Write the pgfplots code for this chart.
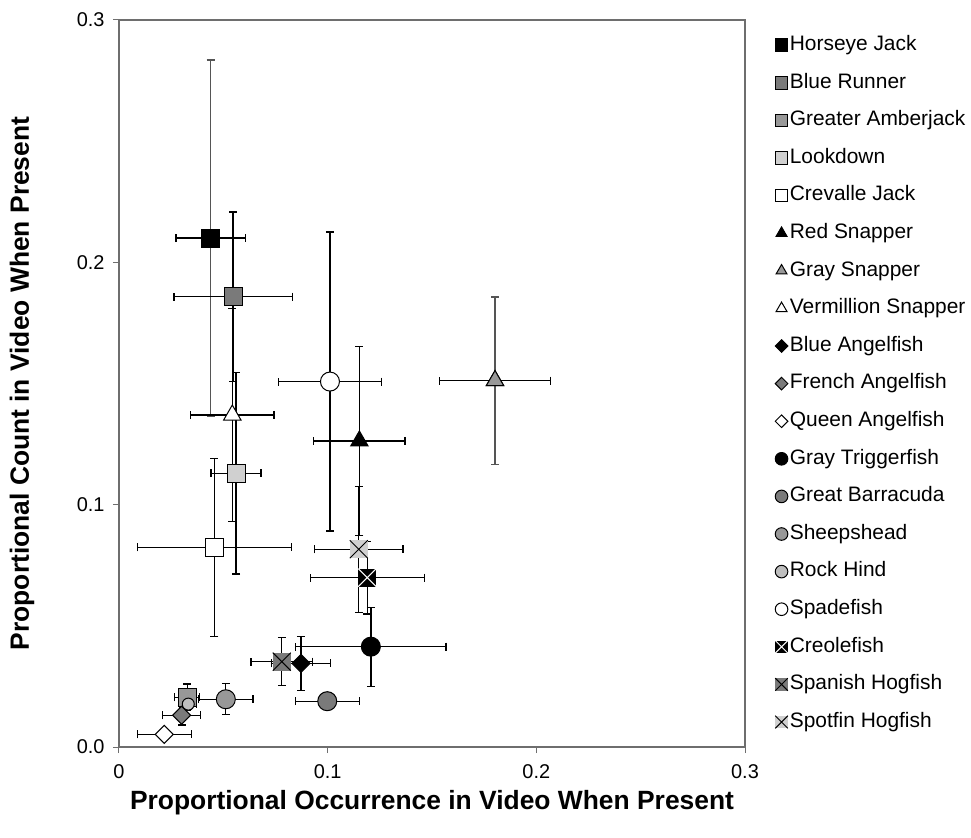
\documentclass[border=0pt]{standalone}
\usepackage{pgfplots}
\pgfplotsset{compat=1.18}
\usepackage{fontspec}
\setmainfont{Liberation Sans}
\definecolor{dg}{HTML}{7A7A7A}
\definecolor{mg}{HTML}{989898}
\definecolor{lg}{HTML}{D0D0D0}
\definecolor{rh}{HTML}{BEBEBE}
\definecolor{axc}{HTML}{6E6E6E}
\definecolor{ebg}{HTML}{555555}
\pgfdeclareplotmark{xsquare}{%
  \pgfpathrectangle{\pgfqpoint{-\pgfplotmarksize}{-\pgfplotmarksize}}{\pgfqpoint{2\pgfplotmarksize}{2\pgfplotmarksize}}%
  \pgfusepathqfill
  \pgfpathmoveto{\pgfqpoint{-\pgfplotmarksize}{-\pgfplotmarksize}}%
  \pgfpathlineto{\pgfqpoint{\pgfplotmarksize}{\pgfplotmarksize}}%
  \pgfpathmoveto{\pgfqpoint{-\pgfplotmarksize}{\pgfplotmarksize}}%
  \pgfpathlineto{\pgfqpoint{\pgfplotmarksize}{-\pgfplotmarksize}}%
  \pgfusepathqstroke
}
\pgfdeclareplotmark{rdiamond*}{%
  \pgfpathmoveto{\pgfqpoint{0pt}{\pgfplotmarksize}}%
  \pgfpathlineto{\pgfqpoint{\pgfplotmarksize}{0pt}}%
  \pgfpathlineto{\pgfqpoint{0pt}{-\pgfplotmarksize}}%
  \pgfpathlineto{\pgfqpoint{-\pgfplotmarksize}{0pt}}%
  \pgfpathclose
  \pgfusepathqfillstroke
}
\pgfplotsset{
  eb/.style={only marks, line width=1bp,
    error bars/x dir=both, error bars/x explicit,
    error bars/y dir=both, error bars/y explicit,
    error bars/error bar style={black, line width=1.3bp},
    error bars/error mark=|,
    error bars/error mark options={black, line width=1.3bp, mark size=4bp}},
  ebx/.style={only marks, line width=1bp,
    error bars/x dir=both, error bars/x explicit,
    error bars/error bar style={black, line width=1.3bp},
    error bars/error mark=|,
    error bars/error mark options={black, line width=1.3bp, mark size=4bp}},
  ebyg/.style={only marks, line width=1bp, forget plot,
    error bars/y dir=both, error bars/y explicit,
    error bars/error bar style={ebg, line width=1.3bp},
    error bars/error mark=|,
    error bars/error mark options={ebg, line width=1.3bp, mark size=4bp}},
}
\begin{document}
\begin{tikzpicture}
\useasboundingbox (-119bp,-91bp) rectangle (852bp,747bp);
\begin{axis}[
  at={(0,0)}, anchor=south west,
  width=626bp, height=727bp, scale only axis,
  xmin=0, xmax=0.3, ymin=0, ymax=0.3,
  xtick={0,0.1,0.2,0.3}, xticklabels={0,0.1,0.2,0.3},
  ytick={0,0.1,0.2,0.3}, yticklabels={0.0,0.1,0.2,0.3},
  tick align=outside, tick pos=left, major tick length=6bp,
  tick style={axc, line width=1bp},
  axis line style={axc, line width=1.2bp},
  /pgf/number format/assume math mode=true,
  ticklabel style={font=\fontsize{20}{22}\selectfont},
  yticklabel style={xshift=-5bp},
  xticklabel style={yshift=-8bp},
  xlabel={Proportional Occurrence in Video When Present},
  ylabel={Proportional Count in Video When Present},
  xlabel style={at={([yshift=-56bp]axis description cs:0.5,0)}, anchor=center, font=\bfseries\fontsize{26.5}{30}\selectfont},
  ylabel style={at={([xshift=-97bp]axis description cs:0,0.5)}, anchor=center, font=\bfseries\fontsize{26.5}{30}\selectfont},
  legend style={at={(1.048,0.979)}, anchor=north west, draw=none, fill=none,
    inner sep=0pt, row sep=18.1bp, font=\fontsize{21}{24}\selectfont,
    nodes={inner xsep=2bp, inner ysep=0pt, text height=15bp, text depth=4.5bp}},
  legend cell align=left,
  legend image code/.code={\draw[#1, mark size=6.3bp] plot coordinates {(0bp,0bp)};},
  clip=false,
]
\addplot[ebyg, mark=square*, mark size=9bp, draw=black, fill=black] coordinates {(0.0439,0.210) +- (0,0.0735)};
\addplot[ebx, mark=square*, mark size=9bp, draw=black, fill=black] coordinates {(0.0439,0.210) +- (0.0166,0)};
\addlegendentry{Horseye Jack}
\addplot[eb, mark=square*, mark size=9bp, draw=black, fill=dg] coordinates {(0.0547,0.1858) +- (0.0283,0.035)};
\addlegendentry{Blue Runner}
\addplot[eb, mark=square*, mark size=9bp, draw=black, fill=mg] coordinates {(0.0327,0.0205) +- (0.006,0.0055)};
\addlegendentry{Greater Amberjack}
\addplot[eb, mark=square*, mark size=9bp, draw=black, fill=lg] coordinates {(0.0561,0.113) +- (0.012,0.0416)};
\addlegendentry{Lookdown}
\addplot[eb, mark=square*, mark size=9bp, draw=black, fill=white] coordinates {(0.0457,0.0824) +- (0.037,0.0367)};
\addlegendentry{Crevalle Jack}
\addplot[eb, mark=triangle*, mark size=10bp, draw=black, fill=black] coordinates {(0.1152,0.1263) +- (0.0219,0.039)};
\addlegendentry{Red Snapper}
\addplot[ebyg, mark=triangle*, mark size=10bp, draw=black, fill=mg] coordinates {(0.1802,0.1512) +- (0,0.0345)};
\addplot[ebx, mark=triangle*, mark size=10bp, draw=black, fill=mg] coordinates {(0.1802,0.1512) +- (0.0267,0)};
\addlegendentry{Gray Snapper}
\addplot[eb, mark=triangle*, mark size=10bp, draw=black, fill=white] coordinates {(0.0543,0.137) +- (0.020,0.044)};
\addlegendentry{Vermillion Snapper}
\addplot[eb, mark=rdiamond*, mark size=9bp, draw=black, fill=black] coordinates {(0.0872,0.0345) +- (0.0142,0.0112)};
\addlegendentry{Blue Angelfish}
\addplot[eb, mark=rdiamond*, mark size=9bp, draw=black, fill=dg] coordinates {(0.030,0.0131) +- (0.009,0.004)};
\addlegendentry{French Angelfish}
\addplot[eb, mark=rdiamond*, mark size=9bp, draw=black, fill=white] coordinates {(0.0217,0.0052) +- (0.0129,0.002)};
\addlegendentry{Queen Angelfish}
\addplot[eb, mark=*, mark size=9.5bp, draw=black, fill=black] coordinates {(0.1207,0.0414) +- (0.036,0.0163)};
\addlegendentry{Gray Triggerfish}
\addplot[eb, mark=*, mark size=9.5bp, draw=black, fill=dg] coordinates {(0.0998,0.0189) +- (0.0153,0.002)};
\addlegendentry{Great Barracuda}
\addplot[eb, mark=*, mark size=9.5bp, draw=black, fill=mg] coordinates {(0.0512,0.0197) +- (0.013,0.0064)};
\addlegendentry{Sheepshead}
\addplot[eb, mark=*, mark size=6bp, draw=black, fill=rh] coordinates {(0.0332,0.0177) +- (0.004,0.002)};
\addlegendentry{Rock Hind}
\addplot[eb, mark=*, mark size=9.5bp, draw=black, fill=white] coordinates {(0.1011,0.1508) +- (0.0247,0.0617)};
\addlegendentry{Spadefish}
\addplot[eb, mark=xsquare, mark size=9bp, draw=white, fill=black] coordinates {(0.119,0.0699) +- (0.0273,0.015)};
\addlegendentry{Creolefish}
\addplot[eb, mark=xsquare, mark size=9bp, draw=black, fill=dg] coordinates {(0.078,0.0352) +- (0.0147,0.0099)};
\addlegendentry{Spanish Hogfish}
\addplot[eb, mark=xsquare, mark size=9bp, draw=black, fill=lg] coordinates {(0.1149,0.0816) +- (0.0212,0.026)};
\addlegendentry{Spotfin Hogfish}
\end{axis}
\end{tikzpicture}
\end{document}
